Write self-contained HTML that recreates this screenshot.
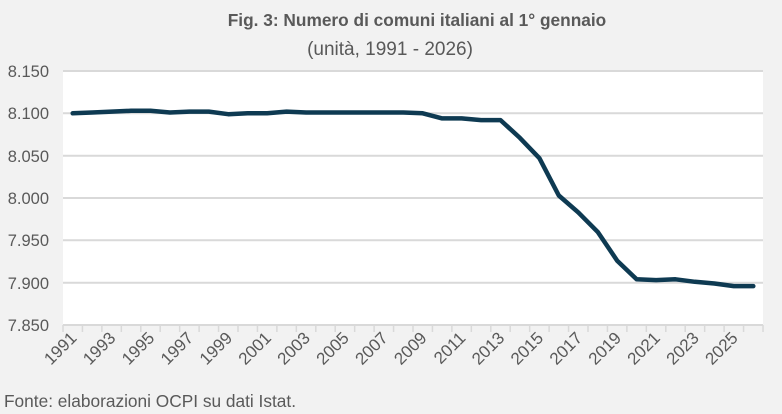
<!DOCTYPE html>
<html><head><meta charset="utf-8"><style>
body{margin:0;background:#f2f2f2;}
svg{display:block;font-family:"Liberation Sans",sans-serif;}
</style></head><body>
<svg width="782" height="414" viewBox="0 0 782 414">
<rect width="782" height="414" fill="#f2f2f2"/>
<text x="417" y="26" text-anchor="middle" font-size="17.3" font-weight="bold" fill="#595959">Fig. 3: Numero di comuni italiani al 1° gennaio</text>
<text x="390" y="55" text-anchor="middle" font-size="19" fill="#595959">(unità, 1991 - 2026)</text>
<rect x="63" y="71" width="700" height="254" fill="#fff"/>
<g stroke="#d9d9d9" stroke-width="2">
<line x1="63" x2="763" y1="71" y2="71"/>
<line x1="63" x2="763" y1="113.3" y2="113.3"/>
<line x1="63" x2="763" y1="155.7" y2="155.7"/>
<line x1="63" x2="763" y1="198" y2="198"/>
<line x1="63" x2="763" y1="240.3" y2="240.3"/>
<line x1="63" x2="763" y1="282.7" y2="282.7"/>
<line x1="63" x2="763" y1="325" y2="325"/>
</g>
<g font-size="16.5" fill="#595959" text-anchor="end">
<text x="49" y="77">8.150</text>
<text x="49" y="119">8.100</text>
<text x="49" y="162">8.050</text>
<text x="49" y="204">8.000</text>
<text x="49" y="246">7.950</text>
<text x="49" y="289">7.900</text>
<text x="49" y="331">7.850</text>
</g>
<g id="ticks" stroke="#d9d9d9" stroke-width="1.5"></g>
<g id="xl" font-size="17" fill="#595959" text-anchor="end"></g>
<polyline id="ln" fill="none" stroke="#0e3a52" stroke-width="4.5" stroke-linejoin="round" stroke-linecap="round"/>
<text x="4" y="407" font-size="17.3" fill="#595959">Fonte: elaborazioni OCPI su dati Istat.</text>
</svg>
<script>
var v=[8100,8101,8102,8103,8103,8101,8102,8102,8099,8100,8100,8102,8101,8101,8101,8101,8101,8101,8100,8094,8094,8092,8092,8071,8047,8003,7983,7960,7926,7904,7903,7904,7901,7899,7896,7896];
var w=700/36,pts=[],ns="http://www.w3.org/2000/svg";
var t=document.getElementById('ticks'),xl=document.getElementById('xl');
for(var i=0;i<=36;i++){var l=document.createElementNS(ns,'line');var x=63+i*w;l.setAttribute('x1',x);l.setAttribute('x2',x);l.setAttribute('y1',325);l.setAttribute('y2',332);t.appendChild(l);}
for(var i=0;i<36;i++){var x=63+w*(i+0.5);pts.push(x.toFixed(1)+','+(325-(v[i]-7850)*254/300).toFixed(1));
if(i%2==0){var tx=document.createElementNS(ns,'text');var ax=x+5,ay=339;tx.setAttribute('x',ax);tx.setAttribute('y',ay);tx.setAttribute('transform','rotate(-45 '+ax+' '+ay+')');tx.textContent=1991+i;xl.appendChild(tx);}}
document.getElementById('ln').setAttribute('points',pts.join(' '));
</script>
</body></html>
